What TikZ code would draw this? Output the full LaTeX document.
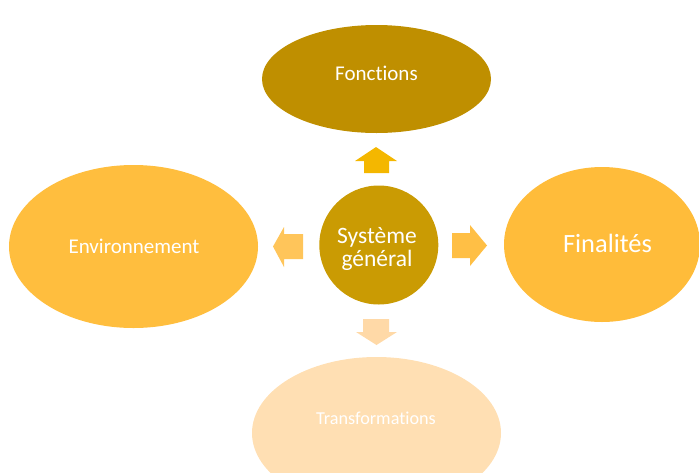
\documentclass[tikz,border=0pt]{standalone}
\usepackage{fontspec}
\setmainfont{Carlito}[Ligatures={NoCommon}]
\usetikzlibrary{shapes.geometric}
\definecolor{foncC}{HTML}{BF8F00}
\definecolor{circC}{HTML}{CA9B03}
\definecolor{upC}{HTML}{F4B700}
\definecolor{envC}{HTML}{FFBE3E}
\definecolor{leftC}{HTML}{FFC55A}
\definecolor{rightC}{HTML}{FFBF45}
\definecolor{finC}{HTML}{FFBC3A}
\definecolor{downC}{HTML}{FFD9A7}
\definecolor{traC}{HTML}{FFDFB3}
\begin{document}
\begin{tikzpicture}[x=1pt,y=-1pt,
  ell/.style={ellipse, inner sep=0pt, draw=none},
  lbl/.style={text=white, inner sep=0pt, align=center, anchor=base}]
\useasboundingbox (0,0) rectangle (699,472);
\clip (0,0) rectangle (699,472);
% ellipses
\node[ell, fill=foncC, minimum width=229pt, minimum height=108pt] (fonc) at (376.5,79) {};
\node[ell, fill=envC, minimum width=249pt, minimum height=163pt] (env) at (133.5,246.5) {};
\node[ell, fill=finC, minimum width=196pt, minimum height=155pt] (fin) at (602,244.5) {};
\node[ell, fill=traC, minimum width=249pt, minimum height=152pt] (tra) at (376.5,433) {};
\node[circle, fill=circC, inner sep=0pt, minimum size=119pt] (sys) at (378.8,245) {};
% labels
\node[lbl, font=\fontsize{21}{25}\selectfont] (foncT) at (376.5,80) {Fonctions};
\node[lbl, font=\fontsize{21}{25}\selectfont] (envT) at (134,253) {Environnement};
\node[lbl, font=\fontsize{26.4}{30}\selectfont] (finT) at (607.5,252) {Finalités};
\node[lbl, font=\fontsize{18.2}{22}\selectfont] (traT) at (376,424) {Transformations};
\node[text=white, inner sep=0pt, align=center, font=\fontsize{23.5}{23}\selectfont] (sysT) at (377,249) {Système\\général};
% block arrows
\fill[upC] (364,173) -- (364,161) -- (355,161) -- (376,147) -- (397,161) -- (389,161) -- (389,173) -- cycle;
\fill[leftC] (303,234) -- (284,234) -- (284,227) -- (273,246.5) -- (284,267) -- (284,259) -- (303,259) -- cycle;
\fill[rightC] (452,233) -- (470,233) -- (470,225) -- (487,245.5) -- (470,266) -- (470,258) -- (452,258) -- cycle;
\fill[downC] (363,319) -- (389,319) -- (389,332) -- (397,332) -- (376.5,345) -- (356,332) -- (363,332) -- cycle;
\end{tikzpicture}
\end{document}
